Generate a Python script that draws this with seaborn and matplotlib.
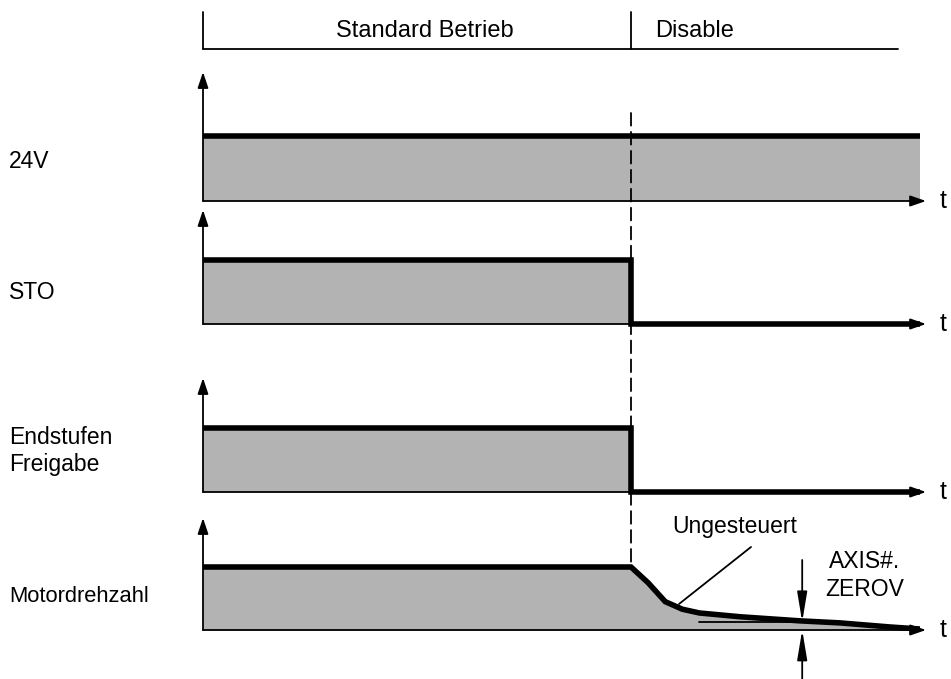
# Zeitdiagramm: Standard Betrieb -> Disable (24V, STO, Endstufen Freigabe, Motordrehzahl)
import matplotlib
matplotlib.use('Agg')
import matplotlib.pyplot as plt
from matplotlib import font_manager
from matplotlib.patches import ConnectionPatch
import seaborn as sns

# --- Daten ---------------------------------------------------------------
phases      = ['Standard Betrieb', 'Disable']
phase_start = [0, 100]
phase_end   = [100, 162.4]

t_off = 100      # Zeitpunkt Disable
t_end = 167.5    # Ende der gezeichneten Signale

signal_names = ['24V', 'STO', 'Endstufen\nFreigabe', 'Motordrehzahl']

v24_t   = [0, t_end]
v24_lvl = [1, 1]

sto_t   = [0, t_off, t_off, t_end]
sto_lvl = [1, 1, 0, 0]

ef_t    = [0, t_off, t_off, t_end]
ef_lvl  = [1, 1, 0, 0]

motor_t   = [0, t_off, 104, 108, 112, 116, 125.5, 139.5, 148.8, 160.5, t_end]
motor_lvl = [1, 1, 0.75, 0.45, 0.33, 0.27, 0.21, 0.145, 0.113, 0.048, 0.016]

zerov_lvl = 0.13          # Schwelle AXIS#.ZEROV
zerov_t   = [116, 146]
zerov_mark_t = 140

signals = [(v24_t, v24_lvl), (sto_t, sto_lvl), (ef_t, ef_lvl), (motor_t, motor_lvl)]

# --- Layout (Pixel der 951x679 Vorlage) ----------------------------------
W, H = 951, 679
X0, PX_T = 203, 4.28                 # Pixel von t=0, Pixel pro Zeiteinheit
ROW_BASE = [201, 324, 492, 630]
ROW_HIGH = [136, 259.5, 428, 567]
ROW_TIP  = [72, 210, 378, 518]
LABEL_Y  = [162, 292, 451, 597]

GRAY  = '#b3b3b3'
THICK = 4.0
THIN  = 1.3
FS    = 17

sns.set_theme(style='white')
plt.rcParams['font.family'] = ['Liberation Sans', 'DejaVu Sans']
plt.rcParams['text.color'] = 'black'

# schmale Schrift fuer "Motordrehzahl", falls vorhanden
names = {f.name for f in font_manager.fontManager.ttflist}
if 'Liberation Sans Narrow' in names:
    motor_font, motor_fs = ['Liberation Sans Narrow', 'Liberation Sans'], 17.5
else:
    motor_font, motor_fs = ['Liberation Sans', 'DejaVu Sans'], 15.8
LABEL_FS = [16.5, 16.5, 16.5, motor_fs]
LABEL_FAMILY = [None, None, None, motor_font]


def tx(px):
    return (px - X0) / PX_T


fig = plt.figure(figsize=(W / 100, H / 100), dpi=100)
axes = []
for i, (t, lvl) in enumerate(signals):
    base, high = ROW_BASE[i], ROW_HIGH[i]
    ax = fig.add_axes([0, 1 - base / H, 1, (base - high) / H])
    ax.set_xlim(tx(0), tx(W))
    ax.set_ylim(0, 1)
    ax.axis('off')
    ly = lambda px, b=base, h=high: (b - px) / (b - h)

    ax.fill_between(t, lvl, 0, color=GRAY, lw=0, clip_on=False, zorder=1)
    sns.lineplot(x=t, y=lvl, estimator=None, sort=False, color='black', lw=THICK,
                 solid_joinstyle='miter', solid_capstyle='butt', clip_on=False,
                 ax=ax, zorder=3)

    # t-Achse
    ax.annotate('', xy=(tx(926), 0), xytext=(0, 0), annotation_clip=False,
                arrowprops=dict(arrowstyle='-|>,head_length=0.95,head_width=0.33',
                                mutation_scale=10, lw=THIN, color='black',
                                shrinkA=0, shrinkB=0), zorder=4)
    ax.text(tx(940), 0, 't', fontsize=18, ha='left', va='center')
    # y-Achse
    ax.annotate('', xy=(0, ly(ROW_TIP[i])), xytext=(0, 0), annotation_clip=False,
                arrowprops=dict(arrowstyle='-|>,head_length=0.95,head_width=0.32',
                                mutation_scale=10, lw=THIN, color='black',
                                shrinkA=0, shrinkB=0), zorder=4)
    kw = {} if LABEL_FAMILY[i] is None else {'family': LABEL_FAMILY[i]}
    ax.text(tx(9), ly(LABEL_Y[i]), signal_names[i], fontsize=LABEL_FS[i], ha='left',
            va='center', linespacing=1.25, **kw)
    axes.append(ax)

# Kopfzeile mit Betriebsphasen
ax0 = axes[0]
ly0 = lambda px: (ROW_BASE[0] - px) / (ROW_BASE[0] - ROW_HIGH[0])
ax0.plot([phase_start[0], phase_end[-1]], [ly0(49), ly0(49)], color='black',
         lw=THIN, clip_on=False)
for s in phase_start:
    ax0.plot([s, s], [ly0(12), ly0(49)], color='black', lw=THIN, clip_on=False)
ax0.text(tx(425), ly0(31), phases[0], fontsize=FS, ha='center', va='center')
ax0.text(tx(655), ly0(31), phases[1], fontsize=FS, ha='left', va='center')

# gestrichelte Linie beim Abschalten
con = ConnectionPatch(xyA=(t_off, ly0(113)), coordsA=ax0.transData,
                      xyB=(t_off, 1.0), coordsB=axes[3].transData,
                      color='black', lw=THIN, linestyle=(0, (7, 3.5)), zorder=5)
fig.add_artist(con)

# Motordrehzahl: Ungesteuert + AXIS#.ZEROV
axm = axes[3]
lym = lambda px: (ROW_BASE[3] - px) / (ROW_BASE[3] - ROW_HIGH[3])
axm.plot(zerov_t, [zerov_lvl, zerov_lvl], color='black', lw=THIN, clip_on=False, zorder=2)
axm.plot([tx(751), tx(679)], [lym(547), lym(604)], color='black', lw=THIN, clip_on=False)
axm.text(tx(735), lym(527), 'Ungesteuert', fontsize=16.5, ha='center', va='center')
axm.annotate('', xy=(zerov_mark_t, zerov_lvl), xytext=(zerov_mark_t, lym(560)),
             annotation_clip=False,
             arrowprops=dict(arrowstyle='-|>,head_length=1.8,head_width=0.3',
                             mutation_scale=10, lw=THIN, color='black',
                             shrinkA=0, shrinkB=0), zorder=4)
axm.annotate('', xy=(zerov_mark_t, 0), xytext=(zerov_mark_t, lym(679)),
             annotation_clip=False,
             arrowprops=dict(arrowstyle='-|>,head_length=1.8,head_width=0.3',
                             mutation_scale=10, lw=THIN, color='black',
                             shrinkA=0, shrinkB=0), zorder=4)
axm.text(tx(865), lym(562), 'AXIS#.', fontsize=16.5, ha='center', va='center')
axm.text(tx(865), lym(589), 'ZEROV', fontsize=16.5, ha='center', va='center')

fig.savefig('out.png', dpi=100)
